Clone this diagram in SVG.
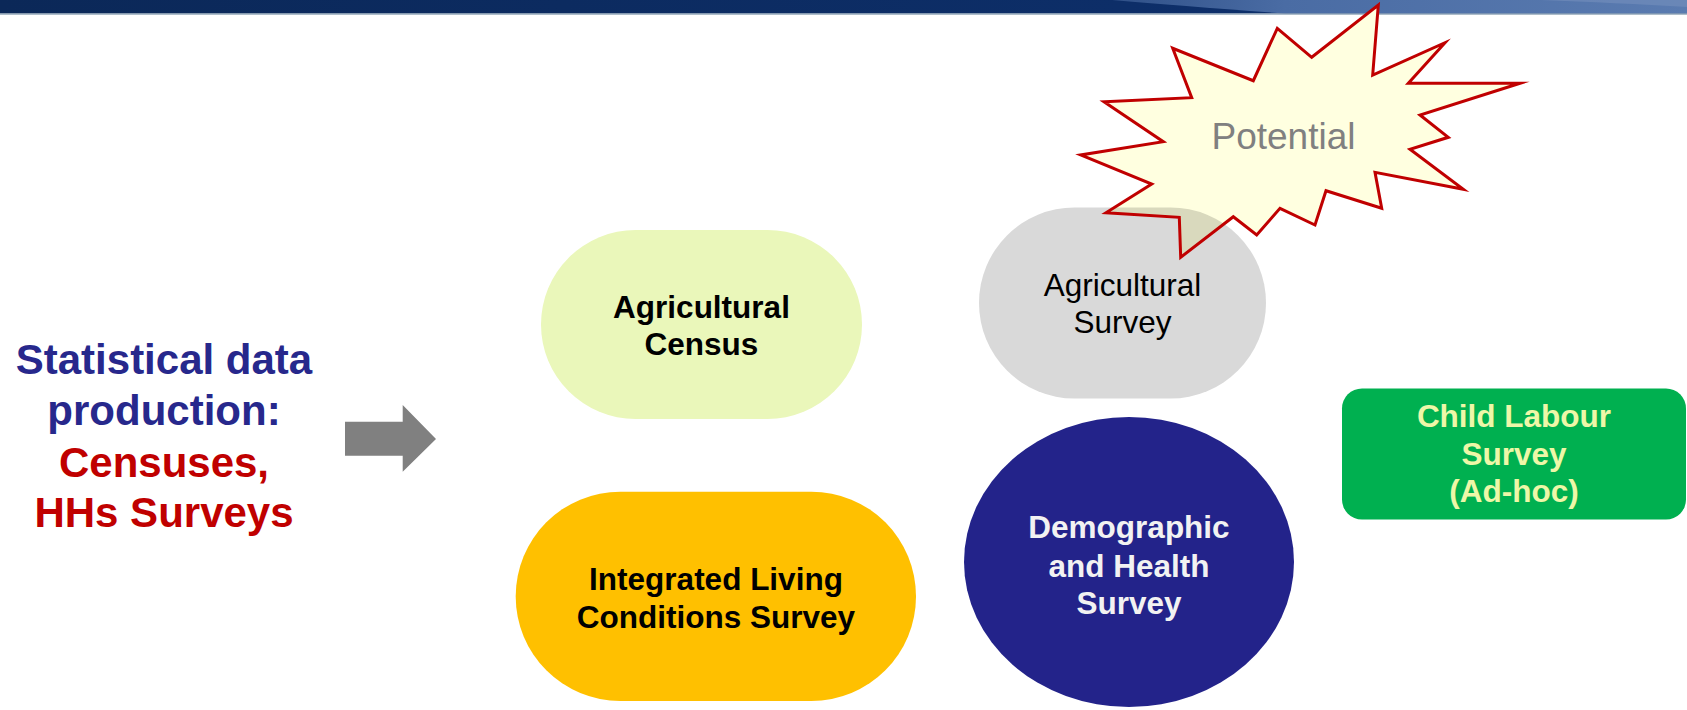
<svg xmlns="http://www.w3.org/2000/svg" xmlns:xlink="http://www.w3.org/1999/xlink" width="1687" height="710" viewBox="0 0 1687 710">
  <style>
    text { font-family: "Liberation Sans", Arial, sans-serif; text-anchor: middle; }
    .bold { font-weight: bold; }
    .lbl { font-size: 31.5px; }
    .dark { fill: #000000; }
    .light { fill: #f2f2f2; }
    .lime { fill: #eef7a8; }
    .title-blue { fill: #27288c; font-size: 42px; font-weight: bold; }
    .title-red { fill: #c00000; font-size: 42px; font-weight: bold; }
  </style>
  <defs>
    <linearGradient id="barDark" x1="0" y1="0" x2="1" y2="0">
      <stop offset="0" stop-color="#0b2858"/>
      <stop offset="1" stop-color="#0e3170"/>
    </linearGradient>
    <linearGradient id="barLight" x1="0" y1="0" x2="1" y2="0">
      <stop offset="0" stop-color="#2f5088"/>
      <stop offset="0.3" stop-color="#4a6ca4"/>
      <stop offset="1" stop-color="#5a7bb0"/>
    </linearGradient>
    <polygon id="burst" points="1378.3,5 1372.7,75 1445,42.7 1408.3,83.3 1520,83.3 1420,115 1448.3,137.3 1410,149.3 1463.3,189.3 1375,172.3 1381.7,208.3 1326,190.7 1315,225 1280,208.3 1256.7,235 1233.3,216.7 1180.7,257.3 1179.3,217.3 1106,212.7 1151.7,184 1080.7,155 1163.3,141.7 1104,101.7 1191.7,97.7 1172.7,48.3 1253.3,80.7 1277.3,28.3 1311.7,57.3"/>
    <clipPath id="burstClip">
      <use xlink:href="#burst"/>
    </clipPath>
  </defs>

  <rect width="1687" height="710" fill="#ffffff"/>

  <!-- header band -->
  <g id="header">
    <rect x="0" y="0" width="1687" height="13.5" fill="url(#barDark)"/>
    <path d="M1112,0 L1687,0 L1687,13.5 L1285,13.5 C1220,9 1160,4 1112,0 Z" fill="url(#barLight)"/>
    <path d="M1540,0 L1687,0 L1687,7 C1640,4 1590,2 1540,0 Z" fill="#7590bd" opacity="0.6"/>
    <rect x="0" y="13.5" width="1687" height="1.2" fill="#8aa2b4"/>
  </g>

  <!-- left heading -->
  <g id="heading">
    <text class="title-blue" x="164" y="374">Statistical data</text>
    <text class="title-blue" x="164" y="424.5">production:</text>
    <text class="title-red" x="164" y="476.5">Censuses,</text>
    <text class="title-red" x="164" y="527">HHs Surveys</text>
  </g>

  <!-- block arrow -->
  <g id="connectors">
    <polygon points="345,421.7 402.7,421.7 402.7,405 436,439 402.7,471.7 402.7,455.7 345,455.7" fill="#808080"/>
  </g>

  <g id="agri-census">
    <rect x="541" y="230" width="321" height="189" rx="94.5" ry="94.5" fill="#eaf7ba"/>
    <text class="lbl bold dark" x="701.5" y="317.5">Agricultural</text>
    <text class="lbl bold dark" x="701.5" y="355">Census</text>
  </g>

  <g id="living-conditions">
    <rect x="515.7" y="491.7" width="400.3" height="209.3" rx="104.6" ry="104.6" fill="#ffc000"/>
    <text class="lbl bold dark" x="716" y="590">Integrated Living</text>
    <text class="lbl bold dark" x="716" y="627.7">Conditions Survey</text>
  </g>

  <g id="agri-survey">
    <rect x="979" y="207.5" width="287" height="191" rx="95.5" ry="95.5" fill="#d9d9d9"/>
    <text class="lbl dark" x="1122.5" y="295.7">Agricultural</text>
    <text class="lbl dark" x="1122.5" y="333.3">Survey</text>
  </g>

  <g id="potential">
    <use xlink:href="#burst" fill="#ffffe0"/>
    <!-- tinted area where the burst overlaps the grey survey shape -->
    <rect x="979" y="207.5" width="287" height="191" rx="95.5" ry="95.5" fill="#d9d9bd" clip-path="url(#burstClip)"/>
    <use xlink:href="#burst" fill="none" stroke="#c00000" stroke-width="3" stroke-linejoin="miter" stroke-miterlimit="20"/>
    <text x="1283.5" y="149.3" font-size="37" fill="#808080">Potential</text>
  </g>

  <g id="dhs">
    <ellipse cx="1129" cy="562" rx="165" ry="145" fill="#23238a"/>
    <text class="lbl bold light" x="1129" y="538.3">Demographic</text>
    <text class="lbl bold light" x="1129" y="576.5">and Health</text>
    <text class="lbl bold light" x="1129" y="614">Survey</text>
  </g>

  <g id="child-labour">
    <rect x="1342" y="388.5" width="344" height="131" rx="20" ry="20" fill="#00b050"/>
    <text class="lbl bold lime" x="1514" y="426.5">Child Labour</text>
    <text class="lbl bold lime" x="1514" y="464.5">Survey</text>
    <text class="lbl bold lime" x="1514" y="502">(Ad-hoc)</text>
  </g>
</svg>
